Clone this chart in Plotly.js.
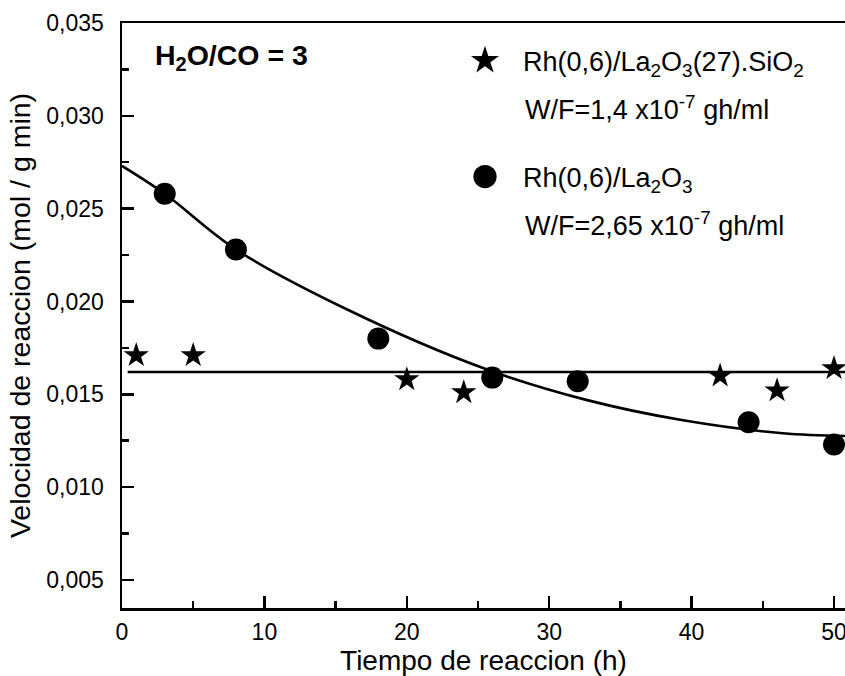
<!DOCTYPE html>
<html>
<head>
<meta charset="utf-8">
<script src="https://cdn.plot.ly/plotly-3.0.1.min.js"></script>
<style>html,body{margin:0;padding:0;background:#fff;}#chart{width:845px;height:676px;}</style>
</head>
<body>
<div id="chart"></div>
<script>
// Rh(0,6)/La2O3(27).SiO2  (stars)
const starX = [1, 5, 20, 24, 42, 46, 50];
const starY = [0.0171, 0.0171, 0.0158, 0.0151, 0.0160, 0.0152, 0.0164];
// Rh(0,6)/La2O3  (circles)
const circX = [3, 8, 18, 26, 32, 44, 50];
const circY = [0.0258, 0.0228, 0.0180, 0.0159, 0.0157, 0.0135, 0.0123];
// fitted lines
const flatX = [0.4, 50.8];
const flatY = [0.0162, 0.0162];
const curveX = [0, 3, 8, 16, 25.4, 32.6, 39.4, 46.4, 50.8];
const curveY = [0.0273, 0.0258, 0.0228, 0.0195, 0.0164, 0.0147, 0.0136, 0.0129, 0.01275];
const yTicks = [0.005, 0.010, 0.015, 0.020, 0.025, 0.030, 0.035];
const xTicks = [0, 10, 20, 30, 40, 50];

const FONT = 'Liberation Sans, Arial, Helvetica, sans-serif';
const L = 122, T = 23, W = 723, H = 585;
const px = v => (v - L) / W;
const py = v => (T + H - v) / H;

const traces = [
  {x: flatX, y: flatY, mode: 'lines', line: {color: '#000', width: 2.6}, showlegend: false, hoverinfo: 'skip'},
  {x: curveX, y: curveY, mode: 'lines', line: {color: '#000', width: 2.6, shape: 'spline', smoothing: 1}, showlegend: false, hoverinfo: 'skip'},
  {x: starX, y: starY, mode: 'markers', name: 'Rh(0,6)/La<sub>2</sub>O<sub>3</sub>(27).SiO<sub>2</sub>',
   marker: {symbol: 'star', size: 19, color: '#000'}, legend: 'legend'},
  {x: circX, y: circY, mode: 'markers', name: 'Rh(0,6)/La<sub>2</sub>O<sub>3</sub>',
   marker: {symbol: 'circle', size: 22, color: '#000'}, legend: 'legend2'}
];

const legendCommon = {
  font: {family: FONT, size: 27, color: '#000'},
  bgcolor: 'rgba(0,0,0,0)', borderwidth: 0,
  itemwidth: 66, xanchor: 'left', yanchor: 'middle', valign: 'middle'
};

const layout = {
  width: 845, height: 676,
  margin: {l: L, r: 0, t: T, b: 676 - T - H, pad: 0},
  paper_bgcolor: '#fff', plot_bgcolor: '#fff',
  separators: ', ',
  font: {family: FONT, color: '#000'},
  xaxis: {
    range: [0, 50.77], showgrid: false, zeroline: false,
    showline: true, linecolor: '#000', linewidth: 2.5, mirror: true,
    ticks: 'inside', ticklen: 12, tickwidth: 2.5, tickcolor: '#000',
    tickvals: xTicks, ticktext: xTicks.map(String),
    tickfont: {family: FONT, size: 23, color: '#000'},
    ticklabelstandoff: 2, ticklabeloverflow: 'allow',
    minor: {ticks: 'inside', ticklen: 7, tickwidth: 2.5, tickcolor: '#000', dtick: 5, tick0: 0, showgrid: false},
    title: {text: 'Tiempo de reaccion (h)', font: {family: FONT, size: 28, color: '#000'}, standoff: 6}
  },
  yaxis: {
    range: [0.00349, 0.035], showgrid: false, zeroline: false,
    showline: true, linecolor: '#000', linewidth: 2.5, mirror: false,
    ticks: 'inside', ticklen: 12, tickwidth: 2.5, tickcolor: '#000',
    tickvals: yTicks, tickformat: '.3f',
    tickfont: {family: FONT, size: 23, color: '#000'},
    ticklabelstandoff: 11, ticklabeloverflow: 'allow',
    minor: {ticks: 'inside', ticklen: 7, tickwidth: 2.5, tickcolor: '#000', dtick: 0.0025, tick0: 0, showgrid: false},
    title: {text: 'Velocidad de reaccion (mol / g min)', font: {family: FONT, size: 28.5, color: '#000'}, standoff: 8}
  },
  legend: Object.assign({}, legendCommon, {x: px(447), y: py(61)}),
  legend2: Object.assign({}, legendCommon, {x: px(447), y: py(177)}),
  annotations: [
    {text: '<b>H<sub>2</sub>O/CO = 3</b>', xref: 'paper', yref: 'paper', x: px(153), y: py(57),
     xanchor: 'left', yanchor: 'middle', showarrow: false, font: {family: FONT, size: 28.5, color: '#000'}},
    {text: 'W/F=1,4 x10<sup>-7</sup> gh/ml', xref: 'paper', yref: 'paper', x: px(523), y: py(108),
     xanchor: 'left', yanchor: 'middle', showarrow: false, font: {family: FONT, size: 27, color: '#000'}},
    {text: 'W/F=2,65 x10<sup>-7</sup> gh/ml', xref: 'paper', yref: 'paper', x: px(523), y: py(224),
     xanchor: 'left', yanchor: 'middle', showarrow: false, font: {family: FONT, size: 27, color: '#000'}}
  ],
  showlegend: true
};

Plotly.newPlot('chart', traces, layout, {displayModeBar: false, staticPlot: true}).then(gd => {
  // enlarge legend symbols (Plotly caps legend marker size at 16px)
  const scaleFor = {star: 1.32, circle: 1.45};
  document.querySelectorAll('.legendpoints path.scatterpts').forEach(p => {
    const d = p.getAttribute('d') || '';
    const s = d.indexOf('A') >= 0 ? scaleFor.circle : scaleFor.star;
    const t = p.getAttribute('transform') || '';
    p.setAttribute('transform', t + ' scale(' + s + ')');
  });
});
</script>
</body>
</html>
